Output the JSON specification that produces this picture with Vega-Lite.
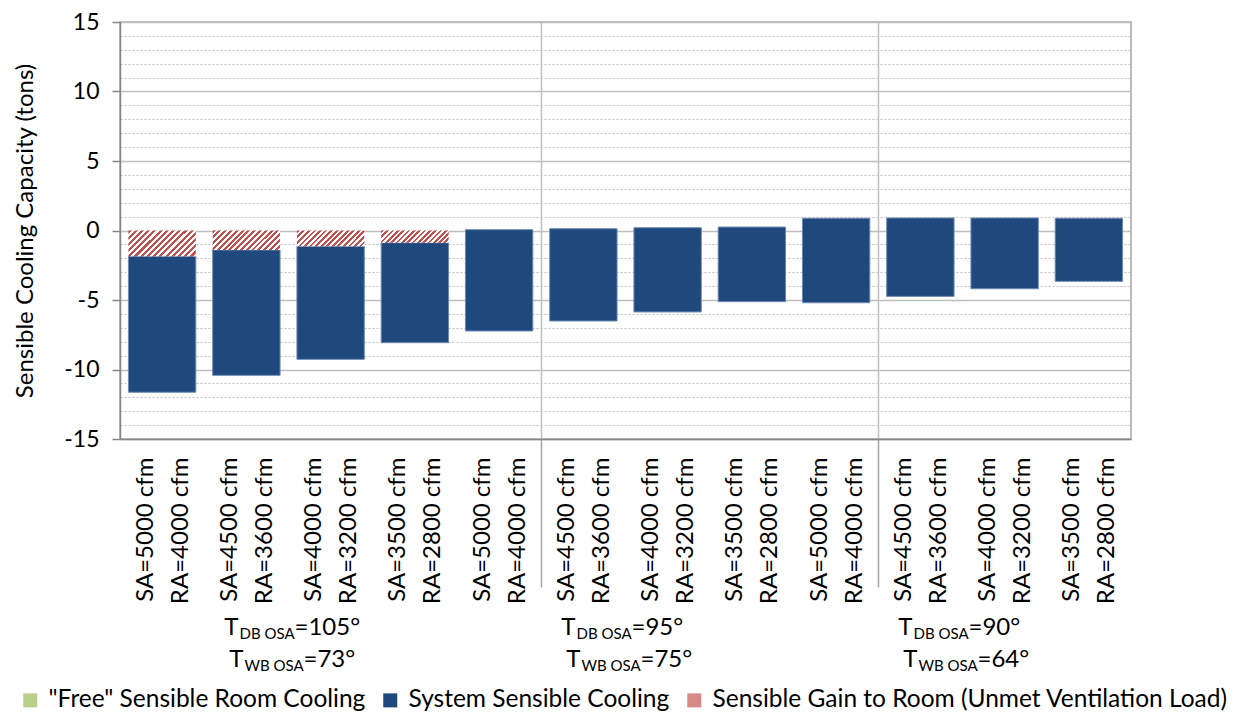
{
  "$schema": "https://vega.github.io/schema/vega-lite/v6.json",
  "padding": {"left": 13, "top": 10, "right": 5, "bottom": 0},
  "config": {
    "font": "Lato",
    "view": {"stroke": "#A6A6A6", "strokeWidth": 1.5},
    "axis": {"labelColor": "#000000", "titleColor": "#000000"},
    "legend": {"title": null, "orient": "none", "direction": "horizontal", "symbolType": "square", "symbolSize": 196, "symbolStrokeWidth": 0, "symbolOpacity": 1, "labelFontSize": 24.5, "labelColor": "#000000", "labelLimit": 700, "labelOffset": 6, "columnPadding": 12, "legendX": -102, "legendY": 666}
  },
  "spacing": 6,
  "datasets": {
    "bars": [
      {"cat": "SA=5000 cfm|RA=4000 cfm|105", "series": "System Sensible Cooling", "lo": -11.64, "hi": -1.86},
      {"cat": "SA=4500 cfm|RA=3600 cfm|105", "series": "System Sensible Cooling", "lo": -10.42, "hi": -1.40},
      {"cat": "SA=4000 cfm|RA=3200 cfm|105", "series": "System Sensible Cooling", "lo": -9.27, "hi": -1.14},
      {"cat": "SA=3500 cfm|RA=2800 cfm|105", "series": "System Sensible Cooling", "lo": -8.07, "hi": -0.88},
      {"cat": "SA=5000 cfm|RA=4000 cfm|95", "series": "System Sensible Cooling", "lo": -7.23, "hi": 0.06},
      {"cat": "SA=4500 cfm|RA=3600 cfm|95", "series": "System Sensible Cooling", "lo": -6.51, "hi": 0.13},
      {"cat": "SA=4000 cfm|RA=3200 cfm|95", "series": "System Sensible Cooling", "lo": -5.86, "hi": 0.20},
      {"cat": "SA=3500 cfm|RA=2800 cfm|95", "series": "System Sensible Cooling", "lo": -5.12, "hi": 0.25},
      {"cat": "SA=5000 cfm|RA=4000 cfm|90", "series": "System Sensible Cooling", "lo": -5.20, "hi": 0.88},
      {"cat": "SA=4500 cfm|RA=3600 cfm|90", "series": "System Sensible Cooling", "lo": -4.74, "hi": 0.90},
      {"cat": "SA=4000 cfm|RA=3200 cfm|90", "series": "System Sensible Cooling", "lo": -4.19, "hi": 0.90},
      {"cat": "SA=3500 cfm|RA=2800 cfm|90", "series": "System Sensible Cooling", "lo": -3.66, "hi": 0.88},
      {"cat": "SA=5000 cfm|RA=4000 cfm|105", "series": "Sensible Gain to Room (Unmet Ventilation Load)", "lo": -1.86, "hi": 0},
      {"cat": "SA=4500 cfm|RA=3600 cfm|105", "series": "Sensible Gain to Room (Unmet Ventilation Load)", "lo": -1.40, "hi": 0},
      {"cat": "SA=4000 cfm|RA=3200 cfm|105", "series": "Sensible Gain to Room (Unmet Ventilation Load)", "lo": -1.14, "hi": 0},
      {"cat": "SA=3500 cfm|RA=2800 cfm|105", "series": "Sensible Gain to Room (Unmet Ventilation Load)", "lo": -0.88, "hi": 0}
    ],
    "groups": [
      {"grp": "105", "line": 1, "sub": "DB OSA", "rest": "=105°"},
      {"grp": "105", "line": 2, "sub": "WB OSA", "rest": "=73°"},
      {"grp": "95", "line": 1, "sub": "DB OSA", "rest": "=95°"},
      {"grp": "95", "line": 2, "sub": "WB OSA", "rest": "=75°"},
      {"grp": "90", "line": 1, "sub": "DB OSA", "rest": "=90°"},
      {"grp": "90", "line": 2, "sub": "WB OSA", "rest": "=64°"}
    ]
  },
  "vconcat": [
    {
      "width": 1011,
      "height": 417,
      "data": {"name": "bars"},
      "encoding": {
        "x": {
          "field": "cat",
          "type": "nominal",
          "scale": {
            "domain": ["SA=5000 cfm|RA=4000 cfm|105", "SA=4500 cfm|RA=3600 cfm|105", "SA=4000 cfm|RA=3200 cfm|105", "SA=3500 cfm|RA=2800 cfm|105", "SA=5000 cfm|RA=4000 cfm|95", "SA=4500 cfm|RA=3600 cfm|95", "SA=4000 cfm|RA=3200 cfm|95", "SA=3500 cfm|RA=2800 cfm|95", "SA=5000 cfm|RA=4000 cfm|90", "SA=4500 cfm|RA=3600 cfm|90", "SA=4000 cfm|RA=3200 cfm|90", "SA=3500 cfm|RA=2800 cfm|90"],
            "paddingInner": 0,
            "paddingOuter": 0
          },
          "axis": {
            "title": null,
            "labelExpr": "slice(split(datum.label, '|'), 0, 2)",
            "labelAngle": -90,
            "labelAlign": "right",
            "labelBaseline": "middle",
            "labelLineHeight": 35,
            "labelPadding": -130,
            "labelOffset": -17,
            "labelFontSize": 24,
            "labelOverlap": false,
            "labelLimit": 400,
            "tickBand": "extent",
            "tickSize": 148,
            "tickWidth": 1.5,
            "tickColor": {"condition": {"test": "datum.value === 'SA=5000 cfm|RA=4000 cfm|95' || datum.value === 'SA=5000 cfm|RA=4000 cfm|90'", "value": "#A6A6A6"}, "value": "transparent"},
            "grid": true,
            "gridWidth": 1.5,
            "gridColor": {"condition": {"test": "datum.value === 'SA=5000 cfm|RA=4000 cfm|95' || datum.value === 'SA=5000 cfm|RA=4000 cfm|90'", "value": "#BFBFBF"}, "value": "transparent"},
            "domainColor": "#868686",
            "domainWidth": 1.5
          }
        },
        "y": {
          "field": "lo",
          "type": "quantitative",
          "title": "Sensible Cooling Capacity (tons)",
          "scale": {"domain": [-15, 15], "nice": false, "zero": false},
          "axis": {
            "values": [-15, -14, -13, -12, -11, -10, -9, -8, -7, -6, -5, -4, -3, -2, -1, 0, 1, 2, 3, 4, 5, 6, 7, 8, 9, 10, 11, 12, 13, 14, 15],
            "labelExpr": "datum.value % 5 === 0 ? '' + datum.value : ''",
            "grid": true,
            "gridColor": "#BFBFBF",
            "gridDash": {"condition": {"test": "datum.value % 5 === 0", "value": []}, "value": [2, 2]},
            "gridWidth": {"condition": {"test": "datum.value % 5 === 0", "value": 1.5}, "value": 1},
            "tickColor": {"condition": {"test": "datum.value % 5 === 0", "value": "#868686"}, "value": "transparent"},
            "tickSize": 8,
            "tickWidth": 1.5,
            "domainColor": "#868686",
            "domainWidth": 1.5,
            "labelFontSize": 23,
            "labelPadding": 13,
            "titleFontSize": 24,
            "titleFontWeight": "normal",
            "titlePadding": 26
          }
        },
        "y2": {"field": "hi"}
      },
      "layer": [
        {
          "transform": [{"filter": "datum.series === 'System Sensible Cooling'"}],
          "mark": {"type": "bar", "width": {"band": 0.8}, "stroke": "#6F8BB3", "strokeWidth": 1},
          "encoding": {
            "fill": {
              "field": "series",
              "type": "nominal",
              "scale": {
                "domain": ["\"Free\" Sensible Room Cooling", "System Sensible Cooling", "Sensible Gain to Room (Unmet Ventilation Load)"],
                "range": ["#B9D08A", "#1F497D", "#D78784"]
              },
              "legend": {}
            }
          }
        },
        {
          "transform": [{"filter": "datum.series === 'Sensible Gain to Room (Unmet Ventilation Load)'"}],
          "mark": {"type": "bar", "width": {"band": 0.8}, "strokeWidth": 0},
          "encoding": {
            "fill": {
              "condition": [
                {"test": "datum.cat === 'SA=5000 cfm|RA=4000 cfm|105'", "value": {"gradient": "linear", "x1": 0, "y1": 0, "x2": 1.206, "y2": 0.4635, "stops": [{"offset":0,"color":"#C0504D"},{"offset":0.0333,"color":"#C0504D"},{"offset":0.0333,"color":"#FFFFFF"},{"offset":0.0667,"color":"#FFFFFF"},{"offset":0.0667,"color":"#C0504D"},{"offset":0.1,"color":"#C0504D"},{"offset":0.1,"color":"#FFFFFF"},{"offset":0.1333,"color":"#FFFFFF"},{"offset":0.1333,"color":"#C0504D"},{"offset":0.1667,"color":"#C0504D"},{"offset":0.1667,"color":"#FFFFFF"},{"offset":0.2,"color":"#FFFFFF"},{"offset":0.2,"color":"#C0504D"},{"offset":0.2333,"color":"#C0504D"},{"offset":0.2333,"color":"#FFFFFF"},{"offset":0.2667,"color":"#FFFFFF"},{"offset":0.2667,"color":"#C0504D"},{"offset":0.3,"color":"#C0504D"},{"offset":0.3,"color":"#FFFFFF"},{"offset":0.3333,"color":"#FFFFFF"},{"offset":0.3333,"color":"#C0504D"},{"offset":0.3667,"color":"#C0504D"},{"offset":0.3667,"color":"#FFFFFF"},{"offset":0.4,"color":"#FFFFFF"},{"offset":0.4,"color":"#C0504D"},{"offset":0.4333,"color":"#C0504D"},{"offset":0.4333,"color":"#FFFFFF"},{"offset":0.4667,"color":"#FFFFFF"},{"offset":0.4667,"color":"#C0504D"},{"offset":0.5,"color":"#C0504D"},{"offset":0.5,"color":"#FFFFFF"},{"offset":0.5333,"color":"#FFFFFF"},{"offset":0.5333,"color":"#C0504D"},{"offset":0.5667,"color":"#C0504D"},{"offset":0.5667,"color":"#FFFFFF"},{"offset":0.6,"color":"#FFFFFF"},{"offset":0.6,"color":"#C0504D"},{"offset":0.6333,"color":"#C0504D"},{"offset":0.6333,"color":"#FFFFFF"},{"offset":0.6667,"color":"#FFFFFF"},{"offset":0.6667,"color":"#C0504D"},{"offset":0.7,"color":"#C0504D"},{"offset":0.7,"color":"#FFFFFF"},{"offset":0.7333,"color":"#FFFFFF"},{"offset":0.7333,"color":"#C0504D"},{"offset":0.7667,"color":"#C0504D"},{"offset":0.7667,"color":"#FFFFFF"},{"offset":0.8,"color":"#FFFFFF"},{"offset":0.8,"color":"#C0504D"},{"offset":0.8333,"color":"#C0504D"},{"offset":0.8333,"color":"#FFFFFF"},{"offset":0.8667,"color":"#FFFFFF"},{"offset":0.8667,"color":"#C0504D"},{"offset":0.9,"color":"#C0504D"},{"offset":0.9,"color":"#FFFFFF"},{"offset":0.9333,"color":"#FFFFFF"},{"offset":0.9333,"color":"#C0504D"},{"offset":0.9667,"color":"#C0504D"},{"offset":0.9667,"color":"#FFFFFF"},{"offset":1,"color":"#FFFFFF"}]}},
                {"test": "datum.cat === 'SA=4500 cfm|RA=3600 cfm|105'", "value": {"gradient": "linear", "x1": 0, "y1": 0, "x2": 1.19, "y2": 0.344, "stops": [{"offset":0,"color":"#C0504D"},{"offset":0.0333,"color":"#C0504D"},{"offset":0.0333,"color":"#FFFFFF"},{"offset":0.0667,"color":"#FFFFFF"},{"offset":0.0667,"color":"#C0504D"},{"offset":0.1,"color":"#C0504D"},{"offset":0.1,"color":"#FFFFFF"},{"offset":0.1333,"color":"#FFFFFF"},{"offset":0.1333,"color":"#C0504D"},{"offset":0.1667,"color":"#C0504D"},{"offset":0.1667,"color":"#FFFFFF"},{"offset":0.2,"color":"#FFFFFF"},{"offset":0.2,"color":"#C0504D"},{"offset":0.2333,"color":"#C0504D"},{"offset":0.2333,"color":"#FFFFFF"},{"offset":0.2667,"color":"#FFFFFF"},{"offset":0.2667,"color":"#C0504D"},{"offset":0.3,"color":"#C0504D"},{"offset":0.3,"color":"#FFFFFF"},{"offset":0.3333,"color":"#FFFFFF"},{"offset":0.3333,"color":"#C0504D"},{"offset":0.3667,"color":"#C0504D"},{"offset":0.3667,"color":"#FFFFFF"},{"offset":0.4,"color":"#FFFFFF"},{"offset":0.4,"color":"#C0504D"},{"offset":0.4333,"color":"#C0504D"},{"offset":0.4333,"color":"#FFFFFF"},{"offset":0.4667,"color":"#FFFFFF"},{"offset":0.4667,"color":"#C0504D"},{"offset":0.5,"color":"#C0504D"},{"offset":0.5,"color":"#FFFFFF"},{"offset":0.5333,"color":"#FFFFFF"},{"offset":0.5333,"color":"#C0504D"},{"offset":0.5667,"color":"#C0504D"},{"offset":0.5667,"color":"#FFFFFF"},{"offset":0.6,"color":"#FFFFFF"},{"offset":0.6,"color":"#C0504D"},{"offset":0.6333,"color":"#C0504D"},{"offset":0.6333,"color":"#FFFFFF"},{"offset":0.6667,"color":"#FFFFFF"},{"offset":0.6667,"color":"#C0504D"},{"offset":0.7,"color":"#C0504D"},{"offset":0.7,"color":"#FFFFFF"},{"offset":0.7333,"color":"#FFFFFF"},{"offset":0.7333,"color":"#C0504D"},{"offset":0.7667,"color":"#C0504D"},{"offset":0.7667,"color":"#FFFFFF"},{"offset":0.8,"color":"#FFFFFF"},{"offset":0.8,"color":"#C0504D"},{"offset":0.8333,"color":"#C0504D"},{"offset":0.8333,"color":"#FFFFFF"},{"offset":0.8667,"color":"#FFFFFF"},{"offset":0.8667,"color":"#C0504D"},{"offset":0.9,"color":"#C0504D"},{"offset":0.9,"color":"#FFFFFF"},{"offset":0.9333,"color":"#FFFFFF"},{"offset":0.9333,"color":"#C0504D"},{"offset":0.9667,"color":"#C0504D"},{"offset":0.9667,"color":"#FFFFFF"},{"offset":1,"color":"#FFFFFF"}]}},
                {"test": "datum.cat === 'SA=4000 cfm|RA=3200 cfm|105'", "value": {"gradient": "linear", "x1": 0, "y1": 0, "x2": 1.17, "y2": 0.274, "stops": [{"offset":0,"color":"#C0504D"},{"offset":0.0333,"color":"#C0504D"},{"offset":0.0333,"color":"#FFFFFF"},{"offset":0.0667,"color":"#FFFFFF"},{"offset":0.0667,"color":"#C0504D"},{"offset":0.1,"color":"#C0504D"},{"offset":0.1,"color":"#FFFFFF"},{"offset":0.1333,"color":"#FFFFFF"},{"offset":0.1333,"color":"#C0504D"},{"offset":0.1667,"color":"#C0504D"},{"offset":0.1667,"color":"#FFFFFF"},{"offset":0.2,"color":"#FFFFFF"},{"offset":0.2,"color":"#C0504D"},{"offset":0.2333,"color":"#C0504D"},{"offset":0.2333,"color":"#FFFFFF"},{"offset":0.2667,"color":"#FFFFFF"},{"offset":0.2667,"color":"#C0504D"},{"offset":0.3,"color":"#C0504D"},{"offset":0.3,"color":"#FFFFFF"},{"offset":0.3333,"color":"#FFFFFF"},{"offset":0.3333,"color":"#C0504D"},{"offset":0.3667,"color":"#C0504D"},{"offset":0.3667,"color":"#FFFFFF"},{"offset":0.4,"color":"#FFFFFF"},{"offset":0.4,"color":"#C0504D"},{"offset":0.4333,"color":"#C0504D"},{"offset":0.4333,"color":"#FFFFFF"},{"offset":0.4667,"color":"#FFFFFF"},{"offset":0.4667,"color":"#C0504D"},{"offset":0.5,"color":"#C0504D"},{"offset":0.5,"color":"#FFFFFF"},{"offset":0.5333,"color":"#FFFFFF"},{"offset":0.5333,"color":"#C0504D"},{"offset":0.5667,"color":"#C0504D"},{"offset":0.5667,"color":"#FFFFFF"},{"offset":0.6,"color":"#FFFFFF"},{"offset":0.6,"color":"#C0504D"},{"offset":0.6333,"color":"#C0504D"},{"offset":0.6333,"color":"#FFFFFF"},{"offset":0.6667,"color":"#FFFFFF"},{"offset":0.6667,"color":"#C0504D"},{"offset":0.7,"color":"#C0504D"},{"offset":0.7,"color":"#FFFFFF"},{"offset":0.7333,"color":"#FFFFFF"},{"offset":0.7333,"color":"#C0504D"},{"offset":0.7667,"color":"#C0504D"},{"offset":0.7667,"color":"#FFFFFF"},{"offset":0.8,"color":"#FFFFFF"},{"offset":0.8,"color":"#C0504D"},{"offset":0.8333,"color":"#C0504D"},{"offset":0.8333,"color":"#FFFFFF"},{"offset":0.8667,"color":"#FFFFFF"},{"offset":0.8667,"color":"#C0504D"},{"offset":0.9,"color":"#C0504D"},{"offset":0.9,"color":"#FFFFFF"},{"offset":0.9333,"color":"#FFFFFF"},{"offset":0.9333,"color":"#C0504D"},{"offset":0.9667,"color":"#C0504D"},{"offset":0.9667,"color":"#FFFFFF"},{"offset":1,"color":"#FFFFFF"}]}}
              ],
              "value": {"gradient": "linear", "x1": 0, "y1": 0, "x2": 1.1435, "y2": 0.207, "stops": [{"offset":0,"color":"#C0504D"},{"offset":0.0333,"color":"#C0504D"},{"offset":0.0333,"color":"#FFFFFF"},{"offset":0.0667,"color":"#FFFFFF"},{"offset":0.0667,"color":"#C0504D"},{"offset":0.1,"color":"#C0504D"},{"offset":0.1,"color":"#FFFFFF"},{"offset":0.1333,"color":"#FFFFFF"},{"offset":0.1333,"color":"#C0504D"},{"offset":0.1667,"color":"#C0504D"},{"offset":0.1667,"color":"#FFFFFF"},{"offset":0.2,"color":"#FFFFFF"},{"offset":0.2,"color":"#C0504D"},{"offset":0.2333,"color":"#C0504D"},{"offset":0.2333,"color":"#FFFFFF"},{"offset":0.2667,"color":"#FFFFFF"},{"offset":0.2667,"color":"#C0504D"},{"offset":0.3,"color":"#C0504D"},{"offset":0.3,"color":"#FFFFFF"},{"offset":0.3333,"color":"#FFFFFF"},{"offset":0.3333,"color":"#C0504D"},{"offset":0.3667,"color":"#C0504D"},{"offset":0.3667,"color":"#FFFFFF"},{"offset":0.4,"color":"#FFFFFF"},{"offset":0.4,"color":"#C0504D"},{"offset":0.4333,"color":"#C0504D"},{"offset":0.4333,"color":"#FFFFFF"},{"offset":0.4667,"color":"#FFFFFF"},{"offset":0.4667,"color":"#C0504D"},{"offset":0.5,"color":"#C0504D"},{"offset":0.5,"color":"#FFFFFF"},{"offset":0.5333,"color":"#FFFFFF"},{"offset":0.5333,"color":"#C0504D"},{"offset":0.5667,"color":"#C0504D"},{"offset":0.5667,"color":"#FFFFFF"},{"offset":0.6,"color":"#FFFFFF"},{"offset":0.6,"color":"#C0504D"},{"offset":0.6333,"color":"#C0504D"},{"offset":0.6333,"color":"#FFFFFF"},{"offset":0.6667,"color":"#FFFFFF"},{"offset":0.6667,"color":"#C0504D"},{"offset":0.7,"color":"#C0504D"},{"offset":0.7,"color":"#FFFFFF"},{"offset":0.7333,"color":"#FFFFFF"},{"offset":0.7333,"color":"#C0504D"},{"offset":0.7667,"color":"#C0504D"},{"offset":0.7667,"color":"#FFFFFF"},{"offset":0.8,"color":"#FFFFFF"},{"offset":0.8,"color":"#C0504D"},{"offset":0.8333,"color":"#C0504D"},{"offset":0.8333,"color":"#FFFFFF"},{"offset":0.8667,"color":"#FFFFFF"},{"offset":0.8667,"color":"#C0504D"},{"offset":0.9,"color":"#C0504D"},{"offset":0.9,"color":"#FFFFFF"},{"offset":0.9333,"color":"#FFFFFF"},{"offset":0.9333,"color":"#C0504D"},{"offset":0.9667,"color":"#C0504D"},{"offset":0.9667,"color":"#FFFFFF"},{"offset":1,"color":"#FFFFFF"}]}
            }
          }
        }
      ]
    },
    {
      "width": 1011,
      "height": 64,
      "view": {"stroke": null},
      "data": {"name": "groups"},
      "encoding": {
        "x": {"field": "grp", "type": "nominal", "sort": null, "scale": {"paddingInner": 0, "paddingOuter": 0}, "axis": null},
        "y": {"field": "line", "type": "ordinal", "axis": null, "scale": {"padding": 0.5}}
      },
      "layer": [
        {"transform": [{"filter": "datum.line === 1"}], "mark": {"type": "text", "text": "T", "align": "right", "baseline": "alphabetic", "fontSize": 24, "dx": -50, "dy": 8, "color": "#000000"}},
        {"transform": [{"filter": "datum.line === 1"}], "mark": {"type": "text", "align": "left", "baseline": "alphabetic", "fontSize": 15, "dx": -49, "dy": 12, "color": "#000000"}, "encoding": {"text": {"field": "sub"}}},
        {"transform": [{"filter": "datum.line === 1"}], "mark": {"type": "text", "align": "left", "baseline": "alphabetic", "fontSize": 24, "dx": 6, "dy": 8, "color": "#000000"}, "encoding": {"text": {"field": "rest"}}},
        {"transform": [{"filter": "datum.line === 2"}], "mark": {"type": "text", "text": "T", "align": "right", "baseline": "alphabetic", "fontSize": 24, "dx": -45, "dy": 8, "color": "#000000"}},
        {"transform": [{"filter": "datum.line === 2"}], "mark": {"type": "text", "align": "left", "baseline": "alphabetic", "fontSize": 15, "dx": -44, "dy": 12, "color": "#000000"}, "encoding": {"text": {"field": "sub"}}},
        {"transform": [{"filter": "datum.line === 2"}], "mark": {"type": "text", "align": "left", "baseline": "alphabetic", "fontSize": 24, "dx": 15, "dy": 8, "color": "#000000"}, "encoding": {"text": {"field": "rest"}}}
      ]
    }
  ]
}
